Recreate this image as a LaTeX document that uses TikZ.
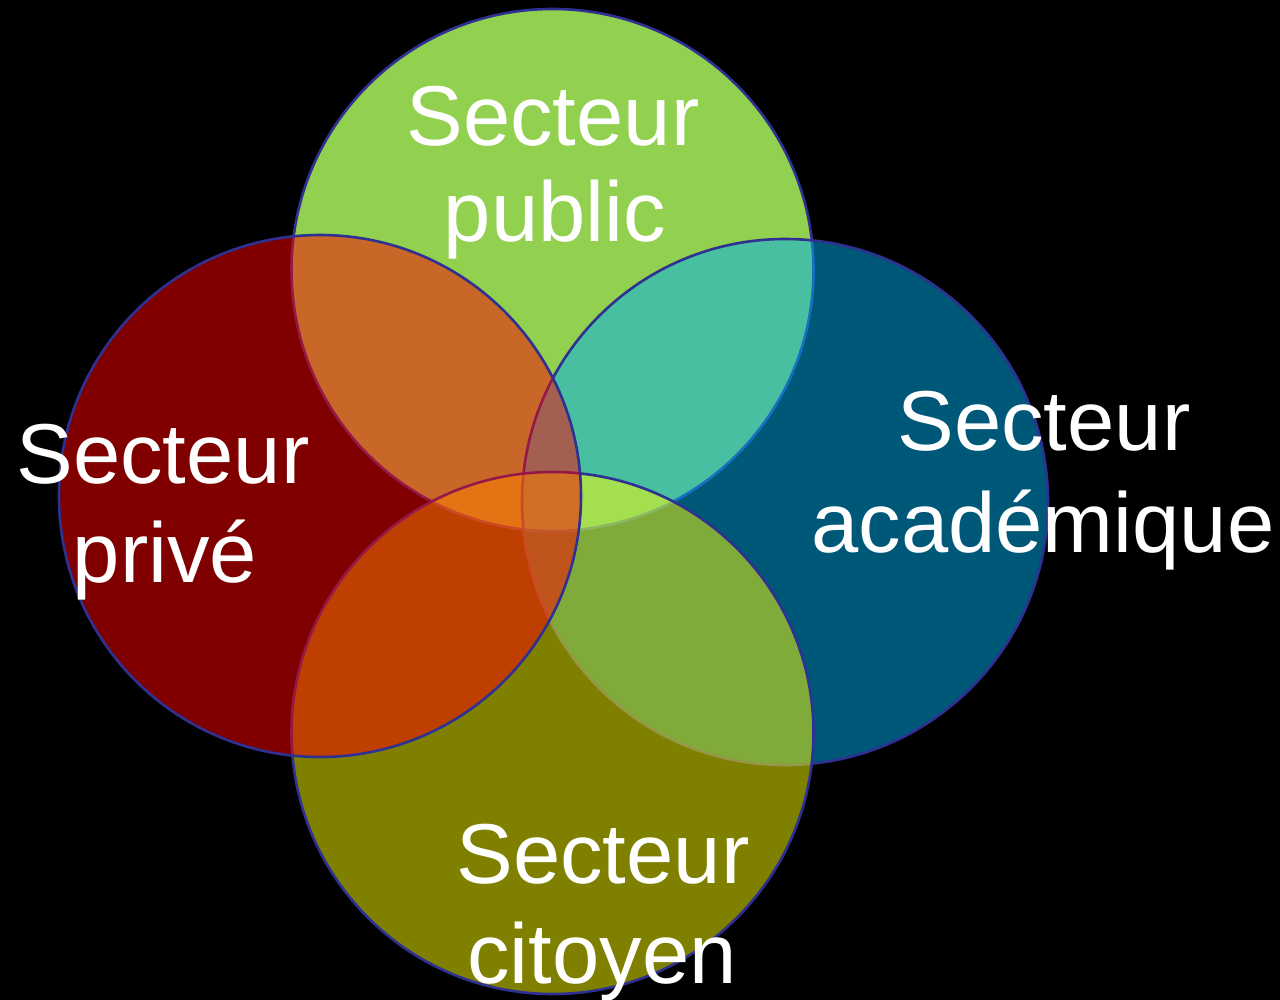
\documentclass[tikz,border=0pt]{standalone}
\usepackage{fontspec}
\setmainfont{Liberation Sans}
\definecolor{cgreen}{HTML}{92D050}
\definecolor{cblue}{HTML}{00B0F0}
\definecolor{cyellow}{HTML}{FFFF00}
\definecolor{cred}{HTML}{FF0000}
\definecolor{cline}{HTML}{2E3192}
\begin{document}
\begin{tikzpicture}[x=1pt,y=-1pt,
  ring/.style={draw=cline,line width=2.6pt},
  lbl/.style={anchor=base,inner sep=0pt,text=white,font=\fontsize{85}{100}\selectfont}]
\useasboundingbox (0,0) rectangle (1280,1000);
\fill[black] (0,0) rectangle (1280,1000);
% circles (green opaque, others half transparent)
\filldraw[ring,fill=cgreen] (552.5,270) circle[radius=261pt];
\filldraw[ring,fill=cblue,fill opacity=0.5] (785,502) circle[radius=263pt];
\filldraw[ring,fill=cyellow,fill opacity=0.5] (552.5,733) circle[radius=261pt];
\filldraw[ring,fill=cred,fill opacity=0.5] (320,496) circle[radius=261pt];
% labels
\node[lbl] (pub1) at (553,146) {Secteur};
\node[lbl] (pub2) at (555,242) {public};
\node[lbl] (pri1) at (163,483) {Secteur};
\node[lbl] (pri2) at (165,582) {privé};
\node[lbl] (aca1) at (1044,450) {Secteur};
\node[lbl] (aca2) at (1043,552) {académique};
\node[lbl] (cit1) at (603,883) {Secteur};
\node[lbl] (cit2) at (602,983) {citoyen};
\end{tikzpicture}
\end{document}
